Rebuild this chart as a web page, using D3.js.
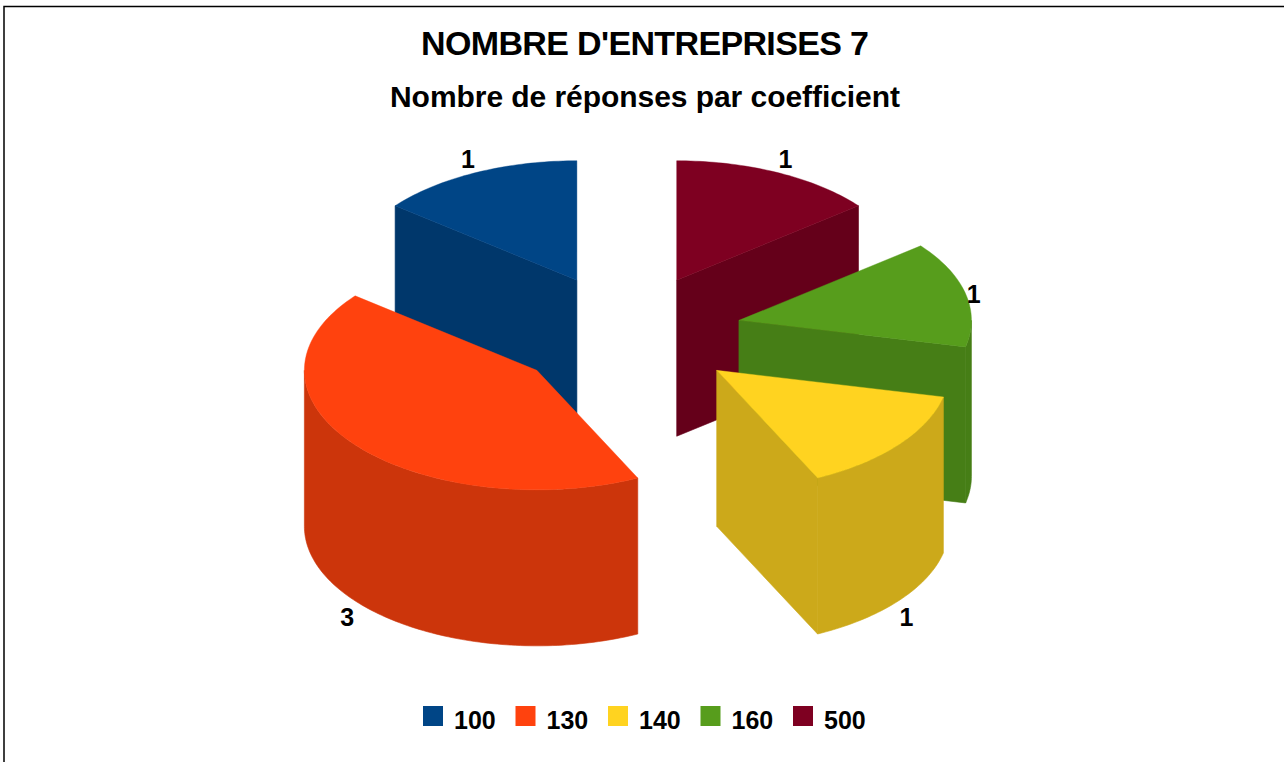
<!DOCTYPE html>
<html>
<head>
<meta charset="utf-8">
<script src="https://cdn.jsdelivr.net/npm/d3@7/dist/d3.min.js"></script>
<style>
html,body{margin:0;padding:0;background:#fff;overflow:hidden}
text{font-family:"Liberation Sans",Arial,sans-serif;font-weight:bold;fill:#000}
</style>
</head>
<body>
<svg id="chart" width="1284" height="762"></svg>
<script>
const titleText = "NOMBRE D'ENTREPRISES 7";
const subtitleText = "Nombre de réponses par coefficient";
const categories = ["100", "130", "140", "160", "500"];
const counts = [1, 3, 1, 1, 1];
const topColors = ["#004586", "#ff420e", "#ffd320", "#579d1c", "#7e0021"];
const sideColors = ["#00376b", "#cc350b", "#cca91a", "#467e16", "#65001a"];
const paintOrder = ["100", "500", "160", "130", "140"];

const W = 1284, H = 762;
const cx = 626.8, cy = 333.5, rx = 232.5, ry = 119.5, depth = 156, explode = 115;

const svg = d3.select("#chart");
svg.append("path").attr("d", `M4 ${H}V6.5H${W}`).attr("fill", "none").attr("stroke", "#000").attr("stroke-width", 1.5);

svg.append("text").attr("x", 645).attr("y", 55).attr("text-anchor", "middle").attr("font-size", 34).attr("textLength", 448).text(titleText);
svg.append("text").attr("x", 645).attr("y", 107).attr("text-anchor", "middle").attr("font-size", 30).attr("textLength", 510).text(subtitleText);

const topScale = d3.scaleOrdinal(categories, topColors);
const sideScale = d3.scaleOrdinal(categories, sideColors);

// d3 angles: clockwise from 12 o'clock. Converted to math angle counter-clockwise.
const arcs = d3.pie().sort(null).startAngle(0).endAngle(-2 * Math.PI)
  .value((d, i) => counts[i])(categories);

const slices = arcs.map(a => {
  const t0 = Math.PI / 2 - a.startAngle;
  const t1 = Math.PI / 2 - a.endAngle;
  const mid = (t0 + t1) / 2;
  return {
    key: a.data, t0, t1, mid,
    ax: cx + explode * Math.cos(mid),
    ay: cy - explode * (ry / rx) * Math.sin(mid)
  };
});

const line = d3.line();
function rim(s, a, b, dy) {
  const n = Math.max(2, Math.ceil(Math.abs(b - a) / 0.02));
  return d3.range(n + 1).map(i => {
    const t = a + (b - a) * i / n;
    return [s.ax + rx * Math.cos(t), s.ay - ry * Math.sin(t) + dy];
  });
}
function face(s, t) {
  const e = [s.ax + rx * Math.cos(t), s.ay - ry * Math.sin(t)];
  return [[s.ax, s.ay], e, [e[0], e[1] + depth], [s.ax, s.ay + depth]];
}
function outerWall(s) {
  // The part of the rim that faces the viewer: math angles in [PI, 2PI] (mod 2PI)
  const lo = Math.max(s.t0, Math.PI), hi = Math.min(s.t1, 2 * Math.PI);
  if (hi <= lo) return null;
  return rim(s, lo, hi, 0).concat(rim(s, hi, lo, depth));
}

const pieG = svg.append("g");
paintOrder.forEach(key => {
  const s = slices.find(d => d.key === key);
  const g = pieG.append("g");
  const side = sideScale(key);
  const addSide = pts => g.append("path").attr("d", line(pts) + "Z")
    .attr("fill", side).attr("stroke", side).attr("stroke-width", 0.6);
  if (Math.cos(s.t0) > 1e-6) addSide(face(s, s.t0));
  if (Math.cos(s.t1) < -1e-6) addSide(face(s, s.t1));
  const w = outerWall(s);
  if (w) addSide(w);
  g.append("path").attr("d", line([[s.ax, s.ay]].concat(rim(s, s.t0, s.t1, 0))) + "Z")
    .attr("fill", topScale(key)).attr("stroke", topScale(key)).attr("stroke-width", 0.4);
});

// Data labels, placed beside the mid-point of each slice's rim
slices.forEach((s, i) => {
  const sn = Math.sin(s.mid), cs = Math.cos(s.mid);
  const x = s.ax + rx * cs + 8 * Math.sign(cs);
  let y = s.ay - ry * sn;
  if (sn > 0.5) y -= 14;
  else if (sn < -0.5) y += depth + 16;
  svg.append("text").attr("x", x).attr("y", y).attr("dy", "0.36em")
    .attr("text-anchor", "middle").attr("font-size", 25).text(counts[i]);
});

// Legend
const legendX = d3.scalePoint().domain(categories).range([423, 793]);
const legend = svg.append("g").selectAll("g").data(categories).join("g")
  .attr("transform", d => `translate(${legendX(d)},706)`);
legend.append("rect").attr("width", 20).attr("height", 20).attr("fill", d => topScale(d));
legend.append("text").attr("x", 31).attr("y", 23).attr("font-size", 25).text(d => d);
</script>
</body>
</html>
